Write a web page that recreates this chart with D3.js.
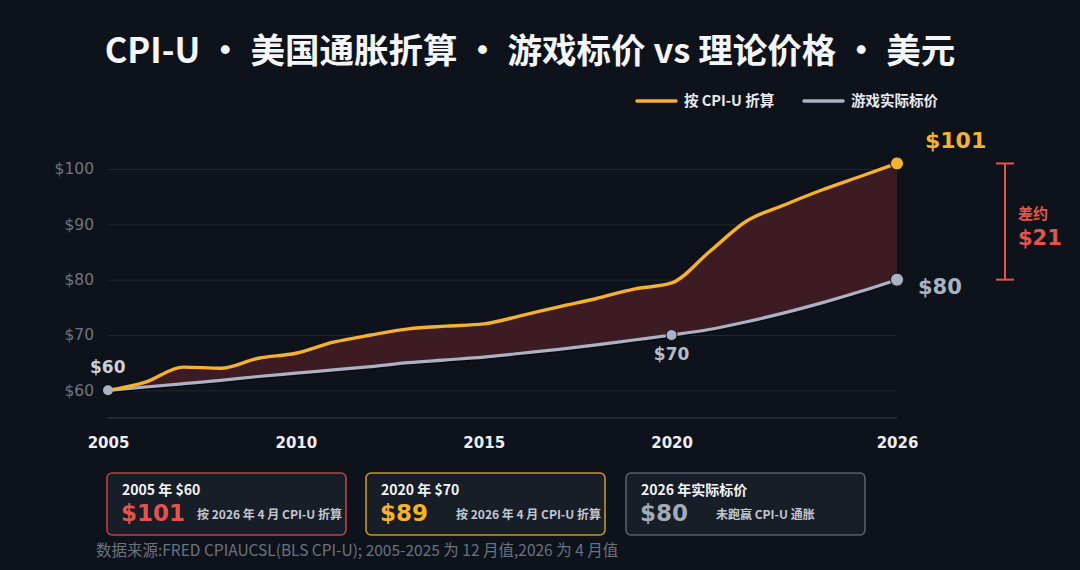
<!DOCTYPE html>
<html><head><meta charset="utf-8">
<script src="https://cdn.jsdelivr.net/npm/d3@7"></script>
<style>
html,body{margin:0;padding:0;background:#0e131b;}
svg{display:block;font-family:"Noto Sans CJK SC","Noto Sans",sans-serif;}
</style></head>
<body><svg id="c" width="1080" height="570"></svg>
<script>
const years = [2005,2006,2007,2008,2009,2010,2011,2012,2013,2014,2015,2016,2017,2018,2019,2020,2021,2022,2023,2024,2025,2026];
const cpiAdjusted = [60,61.5,64.2,64.0,65.8,66.7,68.7,70.0,71.1,71.6,72.0,73.5,75.1,76.6,78.3,79.4,85.0,90.6,93.5,96.2,98.6,101];
const gamePrice = [60,60.6,61.2,61.8,62.5,63.1,63.7,64.3,65.0,65.5,66.0,66.7,67.4,68.2,69.1,70.0,71.0,72.4,74.0,75.8,77.8,80];
const yTicks = [60,70,80,90,100];
const xTicks = [2005,2010,2015,2020,2026];
const legendLabels = ["按 CPI-U 折算","游戏实际标价"];
const cards = [
  {head:"2005 年 $60", big:"$101", note:"按 2026 年 4 月 CPI-U 折算"},
  {head:"2020 年 $70", big:"$89", note:"按 2026 年 4 月 CPI-U 折算"},
  {head:"2026 年实际标价", big:"$80", note:"未跑赢 CPI-U 通胀"}
];
const titleText = "CPI-U • 美国通胀折算 • 游戏标价 vs 理论价格 • 美元";
const sourceText = "数据来源:FRED CPIAUCSL(BLS CPI-U); 2005-2025 为 12 月值,2026 为 4 月值";

const YEL="#f5b12f", GRY="#aab2c4", RED="#e5534b";
const svg = d3.select("#c");
const x = d3.scaleLinear().domain([2005,2026]).range([108,897]);
const y = d3.scaleLinear().domain([55,100]).range([418,169]);
const data = years.map((yr,i)=>({yr, c:cpiAdjusted[i], g:gamePrice[i]}));

// title
svg.append("text").attr("x",530).attr("y",63).attr("text-anchor","middle")
  .attr("fill","#f4f5f7").attr("font-size",34.5).attr("font-weight",700).text(titleText);

// legend
const lg = svg.append("g");
[[637,YEL,legendLabels[0]],[804,GRY,legendLabels[1]]].forEach(([lx,col,t])=>{
  lg.append("line").attr("x1",lx).attr("x2",lx+39).attr("y1",101).attr("y2",101)
    .attr("stroke",col).attr("stroke-width",3.5).attr("stroke-linecap","round");
  lg.append("text").attr("x",lx+47).attr("y",106).attr("fill","#e8eaee")
    .attr("font-size",14.5).attr("font-weight",700).text(t);
});

// y grid / axis
const ya = svg.append("g").attr("transform","translate(108,0)")
  .call(d3.axisLeft(y).tickValues(yTicks).tickSize(-789).tickPadding(14).tickFormat(d=>"$"+d));
ya.select(".domain").remove();
ya.selectAll(".tick line").attr("stroke","#1f2731").attr("stroke-width",1);
ya.selectAll(".tick text").attr("fill","#6e7582").attr("font-size",15.5)
  .attr("font-family","'DejaVu Sans',sans-serif").attr("font-weight",400);
// baseline
svg.append("line").attr("x1",x(2005)).attr("x2",x(2026)).attr("y1",y(55)).attr("y2",y(55))
  .attr("stroke","#3a414c").attr("stroke-width",1.2);

// x axis
const xa = svg.append("g").attr("transform",`translate(0,${y(55)})`)
  .call(d3.axisBottom(x).tickValues(xTicks).tickSize(0).tickPadding(19).tickFormat(d3.format("d")));
xa.select(".domain").remove();
xa.selectAll(".tick text").attr("fill","#eceef2").attr("font-size",15).attr("font-weight",700)
  .attr("font-family","'DejaVu Sans',sans-serif");

// area
const curve = d3.curveMonotoneX;
svg.append("path").datum(data)
  .attr("d",d3.area().x(d=>x(d.yr)).y0(d=>y(d.g)).y1(d=>y(d.c)).curve(curve))
  .attr("fill","#3c1c22");
// grey line shadow
svg.append("path").datum(data)
  .attr("d",d3.line().x(d=>x(d.yr)).y(d=>y(d.g)+1.5).curve(curve))
  .attr("fill","none").attr("stroke","#080a0e").attr("stroke-width",3);
svg.append("path").datum(data)
  .attr("d",d3.line().x(d=>x(d.yr)).y(d=>y(d.g)).curve(curve))
  .attr("fill","none").attr("stroke",GRY).attr("stroke-width",3.2);
svg.append("path").datum(data)
  .attr("d",d3.line().x(d=>x(d.yr)).y(d=>y(d.c)).curve(curve))
  .attr("fill","none").attr("stroke",YEL).attr("stroke-width",3.4);

// markers
const last = data[data.length-1], d2020 = data[years.indexOf(2020)], first = data[0];
svg.append("circle").attr("cx",x(first.yr)).attr("cy",y(first.g)).attr("r",5).attr("fill",GRY);
svg.append("circle").attr("cx",x(d2020.yr)).attr("cy",y(d2020.g)).attr("r",5.5).attr("fill",GRY).attr("stroke","#0e131b").attr("stroke-width",1);
svg.append("circle").attr("cx",x(last.yr)).attr("cy",y(last.g)).attr("r",6.5).attr("fill",GRY).attr("stroke","#0e131b").attr("stroke-width",1);
svg.append("circle").attr("cx",x(last.yr)).attr("cy",y(last.c)).attr("r",6.5).attr("fill",YEL).attr("stroke","#0e131b").attr("stroke-width",1);

// point labels
const lbl = (tx,ty,t,col,fs,anchor)=>svg.append("text").attr("x",tx).attr("y",ty).attr("fill",col)
  .attr("font-size",fs).attr("font-weight",700).attr("text-anchor",anchor||"start")
  .attr("font-family","'DejaVu Sans',sans-serif").text(t);
lbl(x(first.yr)-18, y(first.g)-17, "$"+first.g, "#c9cfdb", 17);
lbl(x(d2020.yr), y(d2020.g)+25, "$"+d2020.g, "#b4bccb", 17, "middle");
lbl(x(last.yr)+28, y(last.c)-15, "$"+last.c, YEL, 22);
lbl(x(last.yr)+21, y(last.g)+14, "$"+last.g, "#aab2c4", 21);

// difference bracket
const bx = 1005;
const br = svg.append("g").attr("stroke",RED).attr("stroke-width",2);
br.append("line").attr("x1",bx).attr("x2",bx).attr("y1",y(last.c)).attr("y2",y(last.g));
br.append("line").attr("x1",bx-9).attr("x2",bx+9).attr("y1",y(last.c)).attr("y2",y(last.c));
br.append("line").attr("x1",bx-9).attr("x2",bx+9).attr("y1",y(last.g)).attr("y2",y(last.g));
svg.append("text").attr("x",1018).attr("y",219).attr("fill",RED).attr("font-size",15).attr("font-weight",700).text("差约");
lbl(1018, 245, "$"+Math.round(last.c-last.g), RED, 21);

// cards
const cardX = [107,366,626], cardCols = [
  {stroke:"#b8444b", big:RED},
  {stroke:"#c8952b", big:YEL},
  {stroke:"#575f6c", big:"#a3abbb"}];
const noteX = [197,456,716];
cards.forEach((c,i)=>{
  const g = svg.append("g").attr("transform",`translate(${cardX[i]},473)`);
  g.append("rect").attr("width",239).attr("height",62).attr("rx",5)
    .attr("fill","#181e28").attr("stroke",cardCols[i].stroke).attr("stroke-width",1.6);
  g.append("text").attr("x",15).attr("y",22).attr("fill","#f2f3f5").attr("font-size",14).attr("font-weight",700).text(c.head);
  g.append("text").attr("x",14).attr("y",48).attr("fill",cardCols[i].big).attr("font-size",23).attr("font-weight",700)
    .attr("font-family","'DejaVu Sans',sans-serif").text(c.big);
  g.append("text").attr("x",noteX[i]-cardX[i]).attr("y",46).attr("fill","#c3c7cf").attr("font-size",12).attr("font-weight",700).text(c.note);
});

svg.append("text").attr("x",96).attr("y",556).attr("fill","#6b7280").attr("font-size",15.5).text(sourceText);
</script></body></html>
